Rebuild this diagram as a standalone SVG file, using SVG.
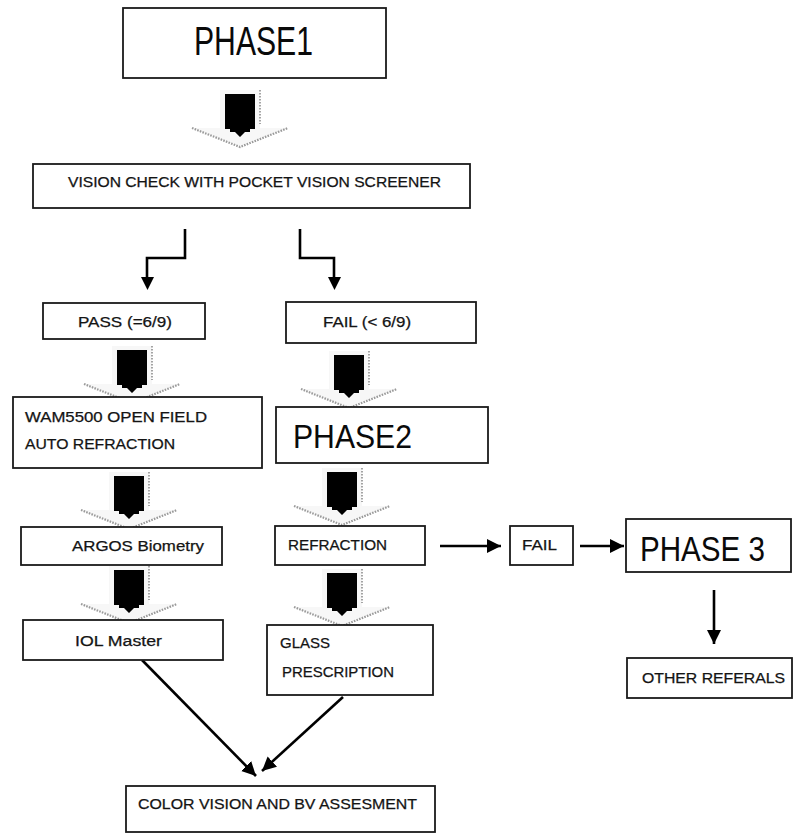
<svg xmlns="http://www.w3.org/2000/svg" xmlns:xlink="http://www.w3.org/1999/xlink" width="793" height="835" viewBox="0 0 793 835">
<style>
.box{fill:#fff;stroke:#1a1a1a;stroke-width:1.8}
.t{font-family:"Liberation Sans",Arial,sans-serif;font-size:14px;fill:#141414;stroke:#141414;stroke-width:0.25}
.big{font-family:"Liberation Sans",Arial,sans-serif;fill:#0a0a0a}
.ln{fill:none;stroke:#000;stroke-width:2.6}
</style>
<defs>
<marker id="ah" markerUnits="userSpaceOnUse" markerWidth="16" markerHeight="16" refX="14" refY="7" orient="auto">
<path d="M0,0 L14,7 L0,14 Z" fill="#000"/>
</marker>
<g id="fat">
<polygon points="-20,-4 20,-4 20,34 48,34 0,52 -48,34 -20,34" fill="#f7f7f7"/>
<path d="M-15,0 H15 V35 H10 V38 H5 L0,43 L-5,38 H-10 V35 H-15 Z" fill="#000"/>
<line x1="20" y1="-4" x2="20" y2="30" stroke="#888" stroke-width="1.5" stroke-dasharray="1.5 1.5"/>
<path d="M-48,34 L0,53 L48,34" fill="none" stroke="#9a9a9a" stroke-width="2.2" stroke-dasharray="1.6 1.2"/>
</g>
</defs>
<rect width="793" height="835" fill="#fff"/>

<g id="connectors">
<use xlink:href="#fat" x="240" y="94"/>
<use xlink:href="#fat" x="132" y="350"/>
<use xlink:href="#fat" x="349" y="355"/>
<use xlink:href="#fat" x="129" y="476"/>
<use xlink:href="#fat" x="129" y="570"/>
<use xlink:href="#fat" x="342" y="472"/>
<use xlink:href="#fat" x="342" y="573"/>
<path class="ln" d="M185,229 V258 H147 V278" stroke-width="3"/>
<polygon points="141,277 154,277 147.5,290" fill="#000"/>
<path class="ln" d="M300,229 V258 H334 V278" stroke-width="3"/>
<polygon points="328,277 341,277 334.5,290" fill="#000"/>
<line class="ln" x1="440" y1="546" x2="501" y2="546" marker-end="url(#ah)"/>
<line class="ln" x1="580" y1="546" x2="624" y2="546" marker-end="url(#ah)"/>
<line class="ln" x1="714" y1="590" x2="714" y2="644" marker-end="url(#ah)"/>
<line class="ln" x1="142" y1="660" x2="256" y2="776" marker-end="url(#ah)"/>
<line class="ln" x1="343" y1="697" x2="262" y2="771" marker-end="url(#ah)"/>
</g>

<g id="phase1">
<rect class="box" x="123" y="8" width="263" height="70"/>
<text class="big" x="194" y="55" font-size="40" textLength="119" lengthAdjust="spacingAndGlyphs">PHASE1</text>
</g>
<g id="vision-check">
<rect class="box" x="33" y="164" width="437" height="44"/>
<text class="t" x="68" y="187" textLength="373" lengthAdjust="spacingAndGlyphs">VISION CHECK WITH POCKET VISION SCREENER</text>
</g>
<g id="pass">
<rect class="box" x="43" y="303" width="162" height="36"/>
<text class="t" x="78" y="327" textLength="94" lengthAdjust="spacingAndGlyphs">PASS (=6/9)</text>
</g>
<g id="fail-low">
<rect class="box" x="286" y="302" width="190" height="41"/>
<text class="t" x="323" y="327" textLength="88" lengthAdjust="spacingAndGlyphs">FAIL (&lt; 6/9)</text>
</g>
<g id="wam">
<rect class="box" x="13" y="397" width="249" height="71"/>
<text class="t" x="25" y="422" textLength="182" lengthAdjust="spacingAndGlyphs">WAM5500 OPEN FIELD</text>
<text class="t" x="25" y="449" textLength="150" lengthAdjust="spacingAndGlyphs">AUTO REFRACTION</text>
</g>
<g id="phase2">
<rect class="box" x="276" y="407" width="212" height="56"/>
<text class="big" x="293" y="448" font-size="33" textLength="119" lengthAdjust="spacingAndGlyphs">PHASE2</text>
</g>
<g id="argos">
<rect class="box" x="21" y="527" width="201" height="38"/>
<text class="t" x="72" y="551" textLength="132" lengthAdjust="spacingAndGlyphs">ARGOS Biometry</text>
</g>
<g id="refraction">
<rect class="box" x="275" y="526" width="150" height="39"/>
<text class="t" x="288" y="550" textLength="99" lengthAdjust="spacingAndGlyphs">REFRACTION</text>
</g>
<g id="fail">
<rect class="box" x="510" y="526" width="63" height="39"/>
<text class="t" x="522" y="550" textLength="35" lengthAdjust="spacingAndGlyphs">FAIL</text>
</g>
<g id="phase3">
<rect class="box" x="626" y="519" width="165" height="53"/>
<text class="big" x="640" y="561" font-size="35" textLength="125" lengthAdjust="spacingAndGlyphs">PHASE 3</text>
</g>
<g id="iol">
<rect class="box" x="23" y="620" width="200" height="40"/>
<text class="t" x="75" y="646" textLength="87" lengthAdjust="spacingAndGlyphs">IOL Master</text>
</g>
<g id="glass">
<rect class="box" x="267" y="625" width="166" height="70"/>
<text class="t" x="280" y="648" textLength="50" lengthAdjust="spacingAndGlyphs">GLASS</text>
<text class="t" x="282" y="677" textLength="112" lengthAdjust="spacingAndGlyphs">PRESCRIPTION</text>
</g>
<g id="other-referals">
<rect class="box" x="627" y="658" width="165" height="40"/>
<text class="t" x="642" y="683" textLength="143" lengthAdjust="spacingAndGlyphs">OTHER REFERALS</text>
</g>
<g id="color-vision">
<rect class="box" x="126" y="786" width="309" height="46"/>
<text class="t" x="138" y="809" textLength="279" lengthAdjust="spacingAndGlyphs">COLOR VISION AND BV ASSESMENT</text>
</g>
</svg>
